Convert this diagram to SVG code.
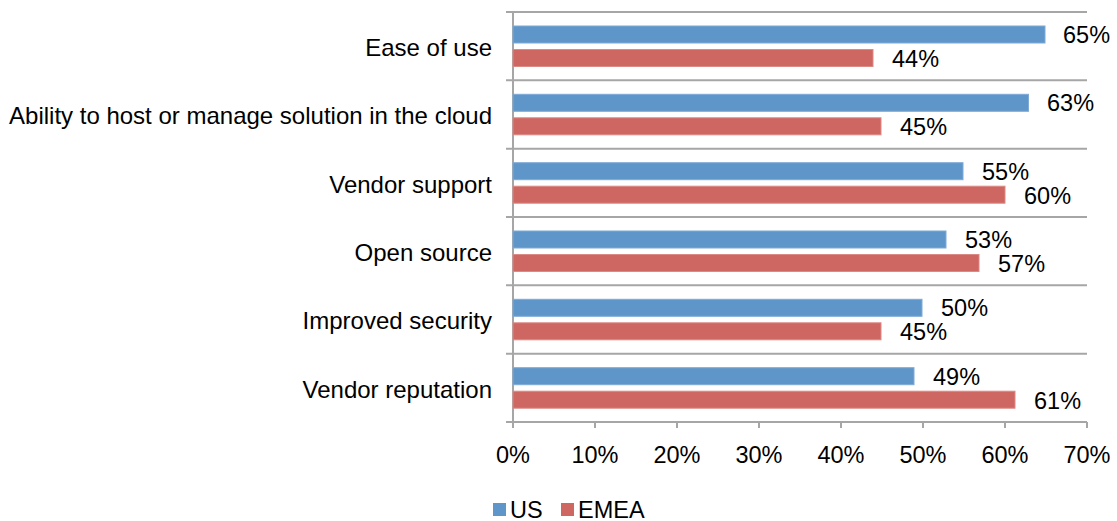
<svg xmlns="http://www.w3.org/2000/svg" width="1117" height="521" viewBox="0 0 1117 521">
<style>
text{font-family:"Liberation Sans",Arial,sans-serif;font-size:23.5px;fill:#000}
.cat{text-anchor:end;font-size:24px}
.tick{text-anchor:middle}
.grid{stroke:#A6A6A6;stroke-width:2;fill:none}
.us{fill:#5F96C9;stroke:#7FAAD6;stroke-width:1}
.em{fill:#CE6661;stroke:#DC8A86;stroke-width:1}
</style>
<rect width="1117" height="521" fill="#fff"/>
<g id="axes">
<path class="grid" d="M506 12H1087M506 80.3H1087M506 148.7H1087M506 217H1087M506 285.3H1087M506 353.7H1087M506 422H1087"/>
<path class="grid" d="M513 12V428M595 422V428M677 422V428M759 422V428M841 422V428M923 422V428M1005 422V428M1087 422V428"/>
<text class="tick" x="513" y="463">0%</text>
<text class="tick" x="595" y="463">10%</text>
<text class="tick" x="677" y="463">20%</text>
<text class="tick" x="759" y="463">30%</text>
<text class="tick" x="841" y="463">40%</text>
<text class="tick" x="923" y="463">50%</text>
<text class="tick" x="1005" y="463">60%</text>
<text class="tick" x="1087" y="463">70%</text>
</g>
<g id="cat1">
<text class="cat" x="492" y="56">Ease of use</text>
<rect class="us" x="513" y="26" width="532" height="17"/>
<rect class="em" x="513" y="49.5" width="360" height="17"/>
<text x="1063" y="43">65%</text>
<text x="892" y="67">44%</text>
</g>
<g id="cat2">
<text class="cat" x="492" y="124.3">Ability to host or manage solution in the cloud</text>
<rect class="us" x="513" y="94.3" width="515.5" height="17"/>
<rect class="em" x="513" y="117.8" width="368" height="17"/>
<text x="1047" y="111.3">63%</text>
<text x="900" y="135.3">45%</text>
</g>
<g id="cat3">
<text class="cat" x="492" y="192.7">Vendor support</text>
<rect class="us" x="513" y="162.7" width="450" height="17"/>
<rect class="em" x="513" y="186.2" width="492" height="17"/>
<text x="982" y="179.7">55%</text>
<text x="1024" y="203.7">60%</text>
</g>
<g id="cat4">
<text class="cat" x="492" y="261">Open source</text>
<rect class="us" x="513" y="231" width="433" height="17"/>
<rect class="em" x="513" y="254.5" width="466" height="17"/>
<text x="965" y="248">53%</text>
<text x="998" y="272">57%</text>
</g>
<g id="cat5">
<text class="cat" x="492" y="329.3">Improved security</text>
<rect class="us" x="513" y="299.3" width="409" height="17"/>
<rect class="em" x="513" y="322.8" width="368" height="17"/>
<text x="941" y="316.3">50%</text>
<text x="900" y="340.3">45%</text>
</g>
<g id="cat6">
<text class="cat" x="492" y="397.7">Vendor reputation</text>
<rect class="us" x="513" y="367.7" width="401" height="17"/>
<rect class="em" x="513" y="391.2" width="502" height="17"/>
<text x="933" y="384.7">49%</text>
<text x="1034" y="408.7">61%</text>
</g>
<g id="legend">
<rect x="493" y="503" width="13" height="13" fill="#5F96C9"/>
<text x="510" y="518">US</text>
<rect x="561" y="503" width="13" height="13" fill="#CE6661"/>
<text x="578" y="518">EMEA</text>
</g>
</svg>
